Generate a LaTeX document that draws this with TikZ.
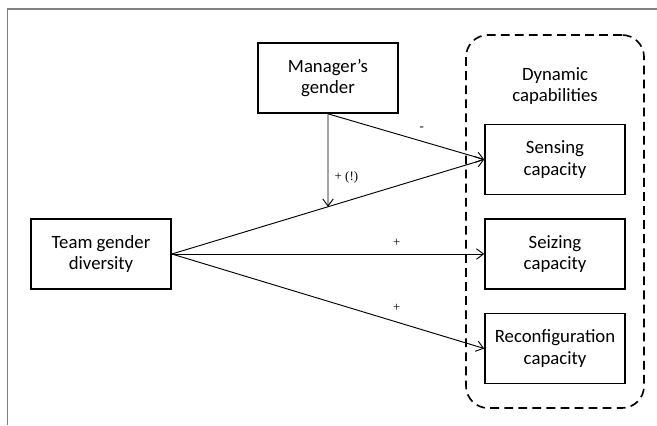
\documentclass[tikz,border=0pt]{standalone}
\usepackage{fontspec}
\setmainfont{Carlito}
\newfontfamily\signfont{Liberation Serif}
\usetikzlibrary{arrows.meta,
                positioning}
\tikzset{block/.style=
   {rectangle,
    draw,
    line width=1.4pt,
    text centered,
    align=center,
    minimum width=4.2cm,
    minimum height=2.1cm,
    font=\fontsize{16}{18.5}\selectfont}}
\tikzset{container/.style=
   {rectangle,
    draw,
    line width=1.4pt,
    dash pattern=on 7.5pt off 4.5pt,
    rounded corners=0.66cm,
    minimum width=5.34cm,
    minimum height=11.19cm}}
\tikzset{arrow/.style = {draw, line width=0.8pt, -{Straight Barb[length=6pt,width=9pt]}}}
\tikzset{sign/.style = {font=\signfont\fontsize{11}{13}\selectfont}}

\begin{document}
\begin{tikzpicture}[x=0.03cm, y=-0.03cm]

    \useasboundingbox (0,0) rectangle (657,425);

    % Frame
    \draw [gray, line width=1pt] (7.5,425) -- (7.5,9) -- (657,9);

    % Blocks
    \node [block] (team) at (101,254) {Team gender\\diversity};
    \node [block, right of=team, node distance=13.62cm] (seizing) {Seizing\\capacity};
    \node [block, above of=seizing, node distance=2.835cm] (sensing) {Sensing\\capacity};
    \node [block, below of=seizing, node distance=2.835cm] (reconfig) {Reconfiguration\\capacity};
    \node [block] (manager) at (328,78) {Manager’s\\gender};

    % Dynamic capabilities
    \node [align=center, font=\fontsize{16}{18.5}\selectfont,
           above of=sensing, node distance=2.2cm] (dyntitle) {Dynamic\\capabilities};
    \node [container] (dynamic) at ([yshift=0.975cm]seizing.center) {};

    % Draw edges
    \coordinate (mdown) at ([yshift=-4cm]manager.south);
    \coordinate (moder) at (intersection of team.east--sensing.west and manager.south--mdown);

    \path [arrow]
    (manager.south)
    -- node [sign, pos=0.6, above=5pt] {-}
    (sensing.west);

    \path [arrow]
    (team.east)
    -- (sensing.west);

    \path [arrow]
    (manager.south)
    -- node [sign, pos=0.68, right=2pt] {+ (!)}
    (moder);

    \path [arrow]
    (team.east)
    -- node [sign, pos=0.72, above=3pt] {+}
    (seizing.west);

    \path [arrow]
    (team.east)
    -- node [sign, pos=0.72, above=5pt] {+}
    (reconfig.west);

\end{tikzpicture}
\end{document}
